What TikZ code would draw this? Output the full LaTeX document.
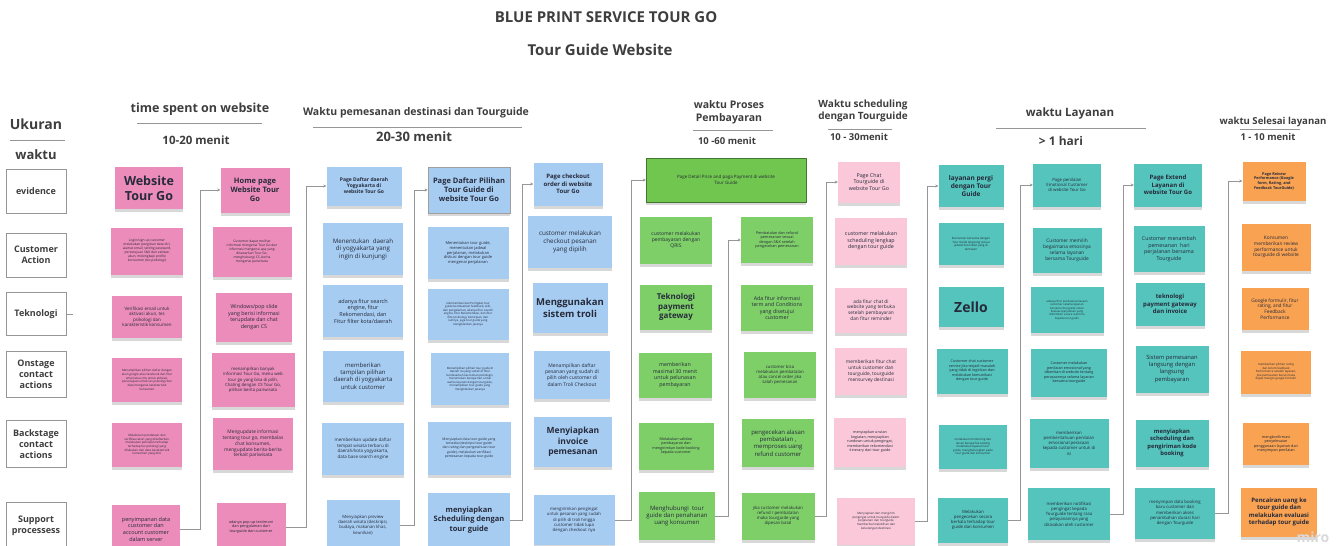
\documentclass[tikz,border=0pt]{standalone}
\usepackage{fontspec}
\setmainfont{Open Sans}
\definecolor{tgpink}{RGB}{236,140,186}
\definecolor{tgrose}{RGB}{250,200,216}
\definecolor{tgblue}{RGB}{166,204,242}
\definecolor{tggreen}{RGB}{126,207,104}
\definecolor{tglime}{RGB}{112,198,78}
\definecolor{tgteal}{RGB}{84,196,188}
\definecolor{tgorange}{RGB}{248,162,82}
\definecolor{tgink}{RGB}{38,42,58}
\definecolor{tghead}{RGB}{62,62,62}
\definecolor{tgline}{RGB}{150,150,150}
\usepackage{tikz}
\usetikzlibrary{arrows.meta,shadows}
\newcommand\fsz[1]{\fontsize{#1}{\fpeval{1.22*#1}}\selectfont}
\tikzset{
  sticky/.style={rectangle,draw=none,text=tgink,align=center,inner sep=1pt,
                 drop shadow={opacity=0.3,shadow xshift=0pt,shadow yshift=-3pt}},
  note/.style n args={3}{sticky,fill=#1,minimum width=#2,minimum height=#3},
  lbl/.style={rectangle,draw=tgline,fill=white,thick,text=tghead,
              minimum width=60,align=center,font=\fsz{9}\bfseries},
  hdr/.style={text=tghead,align=center,font=\fsz{#1}\bfseries},
  rule/.style={tgline,line width=1pt},
  link/.style={-{Stealth[length=3pt,width=3pt]},tgline,line width=0.9pt},
}

\begin{document}
\begin{tikzpicture}[x=1pt,y=-1pt]
  \useasboundingbox[fill=white] (0,0) rectangle (1339,546);

  %% Title
  \node[hdr=15] (title) at (606,17) {BLUE PRINT SERVICE TOUR GO};
  \node[hdr=15] (subtitle) at (600,50) {Tour Guide Website};

  %% Row labels
  \node[hdr=14] (ukuran) at (36,124) {Ukuran};
  \draw[rule] (10,140) -- (65,140);
  \node[hdr=13] (waktu) at (36,155) {waktu};
  \node[lbl,minimum height=44] (rEv) at (36,191) {evidence};
  \node[lbl,minimum height=44] (rCa) at (36,255) {Customer\\Action};
  \node[lbl,minimum height=43] (rTek) at (36,314) {Teknologi};
  \draw[rule] (rTek.east) -- ++(7,0);
  \node[lbl,minimum height=46] (rOn) at (36,374) {Onstage\\contact\\actions};
  \node[lbl,minimum height=47] (rBack) at (36,444) {Backstage\\contact\\actions};
  \node[lbl,minimum height=48] (rSup) at (36,526) {Support\\processess};

  %% Time headers
  \node[hdr=12.5] (h1) at (200,109) {time spent on website};
  \draw[rule] (137,123) -- (262,123);
  \node[hdr=11.5] (m1) at (196,140) {10-20 menit};

  \node[hdr=10.5] (h2) at (416,113) {Waktu pemesanan destinasi dan Tourguide};
  \draw[rule] (313,127) -- (522,127);
  \node[hdr=13] (m2) at (414,137) {20-30 menit};

  \node[hdr=10.5] (h3) at (729,112) {waktu Proses\\Pembayaran};
  \draw[rule] (693,130) -- (773,130);
  \node[hdr=9.5] (m3) at (727,141) {10 -60 menit};

  \node[hdr=10] (h4) at (863,111) {Waktu scheduling\\dengan Tourguide};
  \draw[rule] (828,129) -- (892,129);
  \node[hdr=9.5] (m4) at (859,137) {10 - 30menit};

  \node[hdr=11.5] (h5) at (1070,114) {waktu Layanan};
  \draw[rule] (996,128) -- (1146,128);
  \node[hdr=12] (m5) at (1061,141) {> 1 hari};

  \node[hdr=9.6] (h6) at (1273,122) {waktu Selesai layanan};
  \draw[rule] (1240,129) -- (1300,129);
  \node[hdr=9.5] (m6) at (1268,137) {1 - 10 menit};

  %% Website Tour Go
  \node[note={tgpink}{68}{42},font=\fsz{12.5}\bfseries] (c1ev) at (149,188) {Website\\Tour Go};
  \node[note={tgpink}{72}{47},font=\fsz{3.3}] (c1ca) at (147,251)
    {Login/sign up customer\\melakukan pengisian data diri,\\alamat email, setting password,\\persetujuan S\&K dan validasi\\akun, melengkapi profile\\konsumen (tes psikologi)};
  \node[note={tgpink}{70}{42},font=\fsz{4.5}] (c1tek) at (147,317)
    {Verifikasi email untuk\\aktivasi akun, tes\\psikologi dan\\karakteristik konsumen};
  \node[note={tgpink}{70}{44},font=\fsz{3}] (c1on) at (147,380)
    {Menampilkan pilihan daftar dengan\\akun google atau facebook dan fitur\\email atau sms untuk aktivasi,\\persetujuan untuk tes psikologi dan\\data mengenai karakteristik\\konsumen};
  \node[note={tgpink}{70}{44},font=\fsz{3}] (c1back) at (147,445)
    {Melakukan pendataan dan\\verifikasi akun yang didaftarkan,\\melakukan penilaian terhadap\\terhadap tes psikologi yang\\dilakukan dan data karakteristik\\konsumen yang diisi};
  \node[note={tgpink}{68}{48},font=\fsz{5.5}] (c1sup) at (146,529)
    {penyimpanan data\\customer dan\\account customer\\dalam server};

  %% Home page
  \node[note={tgpink}{69}{45},font=\fsz{7.5}\bfseries] (c2ev) at (255,190) {Home page\\Website Tour\\Go};
  \node[note={tgpink}{79}{50},font=\fsz{3.3}] (c2ca) at (252,252)
    {Customer dapat melihat\\informasi mengenai Tour Go dan\\informasi mengenai apa yang\\ditawarkan Tour Go,\\menghubungi CS, berita\\mengenai pariwisata};
  \node[note={tgpink}{76}{49},font=\fsz{5.3}] (c2tek) at (254,317)
    {Windows/pop slide\\yang berisi informasi\\terupdate dan chat\\dengan CS};
  \node[note={tgpink}{83}{54},font=\fsz{4.3}] (c2on) at (253,380)
    {menampilkan banyak\\informasi Tour Go, menu web\\tour go yang bisa di pilih,\\Chating dengan CS Tour Go,\\pilihan berita pariwisata};
  \node[note={tgpink}{80}{52},font=\fsz{4.8}] (c2back) at (253,444)
    {Mengupdate informasi\\tentang tour go, membalas\\chat konsumen,\\mengupdate berita-berita\\terkait pariwisata};
  \node[note={tgpink}{69}{48},font=\fsz{3.8}] (c2sup) at (251,527)
    {adanya pop up testimoni\\dan pengalaman dari\\tourguide dan customer};

  %% Page Daftar daerah
  \node[note={tgblue}{75}{39},font=\fsz{5}\bfseries] (c3ev) at (364,186) {Page Daftar daerah\\Yogyakarta di\\website Tour Go};
  \node[note={tgblue}{80}{52},font=\fsz{6.2}] (c3ca) at (363,249)
    {Menentukan~ daerah\\di yogyakarta yang\\ingin di kunjungi};
  \node[note={tgblue}{80}{52},font=\fsz{5.5}] (c3tek) at (363,311)
    {adanya fitur search\\engine, fitur\\Rekomendasi, dan\\Fitur filter kota/daerah};
  \node[note={tgblue}{81}{51},font=\fsz{6}] (c3on) at (363,376)
    {memberikan\\tampilan pilihan\\daerah di yogyakarta\\untuk customer};
  \node[note={tgblue}{82}{52},font=\fsz{4.5}] (c3back) at (363,449)
    {memberikan update daftar\\tempat wisata terbaru di\\daerah/kota yogyakarta,\\data base search engine};
  \node[note={tgblue}{73}{50},font=\fsz{4.3}] (c3sup) at (363,525)
    {Menyiapkan preview\\daerah wisata (deskripsi,\\budaya, makanan khas,\\keunikan)};

  %% Page Daftar Pilihan Tour Guide
  \node[note={tgblue}{82}{46},draw=gray!75,thick,font=\fsz{7.5}\bfseries] (c4ev) at (469,190)
    {Page Daftar Pilihan\\Tour Guide di\\website Tour Go};
  \node[note={tgblue}{81}{52},font=\fsz{4}] (c4ca) at (468,253)
    {Menentukan tour guide,\\menentukan jadwal\\perjalanan, melakukan\\diskusi dengan tour guide\\mengenai perjalanan};
  \node[note={tgblue}{81}{51},font=\fsz{2.9}] (c4tek) at (468,314)
    {rekomendasi dan Peringkat tour\\guide berdasarkan feedback, skill,\\dan pengalaman, adanya fitur search\\engine, fitur Rekomendasi, dan fitur\\filter psikologi, kemiripan, dan\\lainnya, juga tour guide yang\\mengiklankan jasanya};
  \node[note={tgblue}{78}{52},font=\fsz{2.9}] (c4on) at (470,379)
    {Menampilkan pilihan tour guide di\\daerah itu yang sudah di filter\\berdasarkan kecocokan psikologis,\\menentukan berapa hari untuk\\waktu layanan dengan tourguide,\\menampilkan tour guide yang\\mengiklankan jasanya};
  \node[note={tgblue}{83}{53},font=\fsz{3.4}] (c4back) at (469,448)
    {Menyiapkan data tour guide yang\\tersedia (deskripsi tour guide\\dan rating dan pengetahuan tour\\guide), melakukan verifikasi\\pemesanan kepada tour guide};
  \node[note={tgblue}{82}{54},font=\fsz{7.5}\bfseries] (c4sup) at (469,520)
    {menyiapkan\\Scheduling dengan\\tour guide};

  %% Page checkout
  \node[note={tgblue}{69}{43},font=\fsz{6}\bfseries] (c5ev) at (568,184) {Page checkout\\order di website\\Tour Go};
  \node[note={tgblue}{84}{52},font=\fsz{6.3}] (c5ca) at (570,242)
    {customer melakukan\\checkout pesanan\\yang dipilih};
  \node[note={tgblue}{75}{50},font=\fsz{9.5}\bfseries] (c5tek) at (570,308)
    {Menggunakan\\sistem troli};
  \node[note={tgblue}{76}{48},font=\fsz{5}] (c5on) at (572,375)
    {Menampilkan daftar\\pesanan yang sudah di\\pilih oleh customer di\\dalam Troli Checkout};
  \node[note={tgblue}{78}{50},font=\fsz{8.5}\bfseries] (c5back) at (573,442)
    {Menyiapkan\\invoice\\pemesanan};
  \node[note={tgblue}{81}{50},font=\fsz{4.3}] (c5sup) at (574,520)
    {mengirimkan pengingat\\untuk pesanan yang sudah\\di pilih di troli hingga\\customer tidak lupa\\dengan checkout nya};

  %% Page Detail Price
  \node[note={tglime}{160}{44},draw=tglime!60!black,font=\fsz{4.5}] (c6ev) at (726,180)
    {Page Detail Price and paga Payment di website\\Tour Guide};
  \node[note={tggreen}{72}{47},font=\fsz{5}] (c6ca) at (676,240)
    {customer melakukan\\pembayaran dengan\\QRIS};
  \node[note={tggreen}{72}{45},font=\fsz{8}\bfseries] (c6tek) at (676,307)
    {Teknologi\\payment\\gateway};
  \node[note={tggreen}{73}{45},font=\fsz{5.3}] (c6on) at (675,375)
    {memberikan\\maximal 30 menit\\untuk pelunasan\\pembayaran};
  \node[note={tggreen}{75}{47},font=\fsz{3.7}] (c6back) at (676,446)
    {Melakukan validasi\\pembayaran dan\\mengirimkan kode booking\\kepada customer};
  \node[note={tggreen}{76}{48},font=\fsz{6}] (c6sup) at (677,516)
    {Menghubungi~ tour\\guide dan penahanan\\uang konsumen};

  %% Pembatalan dan refund
  \node[note={tggreen}{72}{46},font=\fsz{3.8}] (c7ca) at (777,240)
    {Pembatalan dan refund\\pemesanan sesuai\\dengan S\&K setelah\\pengecekan pemesanan};
  \node[note={tggreen}{72}{46},font=\fsz{5.3}] (c7tek) at (777,308)
    {Ada fitur informasi\\term and Conditions\\yang disetujui\\customer};
  \node[note={tggreen}{72}{46},font=\fsz{4.3}] (c7on) at (780,375)
    {customer bisa\\melakukan pembatalan\\atau cancel order jika\\salah pemesanan};
  \node[note={tggreen}{72}{48},font=\fsz{6}] (c7back) at (778,443)
    {pengecekan alasan\\pembatalan ,\\memproses uang\\refund customer};
  \node[note={tggreen}{73}{47},font=\fsz{4.3}] (c7sup) at (778,516)
    {jika customer melakukan\\refund / pembatalan\\maka tourguide yang\\dipesan batal};

  %% Page Chat Tourguide
  \node[note={tgrose}{62}{41},font=\fsz{5.3}] (c8ev) at (869,182) {Page Chat\\Tourguide di\\website Tour Go};
  \node[note={tgrose}{72}{47},font=\fsz{5.3}] (c8ca) at (871,241)
    {customer melakukan\\scheduling lengkap\\dengan tour guide};
  \node[note={tgrose}{72}{45},font=\fsz{4.8}] (c8tek) at (871,310)
    {ada fitur chat di\\website yang terbuka\\setelah pembayaran\\dan fitur reminder};
  \node[note={tgrose}{72}{47},font=\fsz{4.8}] (c8on) at (871,371)
    {memberikan fitur chat\\untuk customer dan\\tourguide, tourguide\\mensurvey destinasi};
  \node[note={tgrose}{72}{49},font=\fsz{3.7}] (c8back) at (870,442)
    {menyiapkan urutan\\kegiatan, menyiapkan\\rundown untuk pengingat,\\memberikan rekomendasi\\itinerary dari tour guide};
  \node[note={tgrose}{78}{47},font=\fsz{3}] (c8sup) at (876,521)
    {Menyiapkan dan mengirim\\pengingat untuk tourguide dalam\\perjalanan dan tourguide\\memberikan kelebihan dan\\kekurangan destinasi};

  %% Layanan pergi dengan Tour Guide
  \node[note={tgteal}{65}{42},font=\fsz{6.5}\bfseries] (c9ev) at (971,186) {layanan pergi\\dengan Tour\\Guide};
  \node[note={tgteal}{65}{42},font=\fsz{2.9}] (c9ca) at (971,244)
    {Konsumen bersama dengan\\Tour Guide langsung sesuai\\jadwal dan lokasi yang di\\tentukan};
  \node[note={tgteal}{65}{40},font=\fsz{14}\bfseries] (c9tek) at (971,307) {Zello};
  \node[note={tgteal}{71}{45},font=\fsz{3.7}] (c9on) at (972,371)
    {Customer chat customer\\service jika terjadi masalah\\yang tidak di inginkan dan\\melakukan komunikasi\\dengan tour guide};
  \node[note={tgteal}{68}{44},font=\fsz{2.9}] (c9back) at (973,447)
    {melakukan monitoring dan\\absen berapa fee sedang\\melakukan layanan tour\\guide, menghubungkan pada\\tour guide dan konsumen};
  \node[note={tgteal}{70}{45},font=\fsz{4.3}] (c9sup) at (973,520)
    {Melakukan\\pengecekan secara\\berkala terhadap tour\\guide dan konsumen};

  %% Page penilaian Emotional Customer
  \node[note={tgteal}{68}{43},font=\fsz{4.3}] (c10ev) at (1067,185) {Page penilaian\\Emotional Customer\\di website Tour Go};
  \node[note={tgteal}{69}{45},font=\fsz{4.8}] (c10ca) at (1067,250)
    {Customer memilih\\begaimana emosinya\\selama layanan\\bersama Tourguide};
  \node[note={tgteal}{73}{46},font=\fsz{2.8}] (c10tek) at (1067,310)
    {adanya fitur penilaian perasaan\\customer selama layanan\\bersama Tourguide untuk\\Evaluasi perjalanan yang\\dikirimkan secara real time\\kepada tour guide};
  \node[note={tgteal}{76}{48},font=\fsz{3.7}] (c10on) at (1069,373)
    {Customer melakukan\\penilaian emosional yang\\diberikan di website tentang\\perasaannya selama layanan\\bersama tourguide};
  \node[note={tgteal}{79}{49},font=\fsz{4.3}] (c10back) at (1069,443)
    {memberikan\\pemberitahuan penilaian\\emosional perasaan\\kepada customer untuk di\\isi};
  \node[note={tgteal}{82}{52},font=\fsz{4.3}] (c10sup) at (1069,514)
    {memberikan notifikasi\\pengingat kepada\\Tourguide tentang rasa\\pelayanannya yang\\dirasakan oleh customer};

  %% Page Extend Layanan
  \node[note={tgteal}{68}{43},font=\fsz{6}\bfseries] (c11ev) at (1168,185) {Page Extend\\Layanan di\\website Tour Go};
  \node[note={tgteal}{71}{46},font=\fsz{5.3}] (c11ca) at (1169,249)
    {Customer menambah\\pemesanan~ hari\\perjalanan bersama\\Tourguide};
  \node[note={tgteal}{69}{43},font=\fsz{6}\bfseries] (c11tek) at (1170,304)
    {teknologi\\payment gateway\\dan invoice};
  \node[note={tgteal}{73}{47},font=\fsz{5.8}] (c11on) at (1172,369)
    {Sistem pemesanan\\langsung dengan\\langsung\\pembayaran};
  \node[note={tgteal}{73}{47},font=\fsz{5.8}\bfseries] (c11back) at (1172,443)
    {menyiapkan\\scheduling dan\\pengiriman kode\\booking};
  \node[note={tgteal}{80}{51},font=\fsz{4.3}] (c11sup) at (1175,513)
    {menyimpan data booking\\baru customer dan\\memberikan akses\\penambahan durasi hari\\dengan Tourguide};

  %% Page Review Performance
  \node[note={tgorange}{63}{39},font=\fsz{3.8}\bfseries] (c12ev) at (1274,181)
    {Page Reivew\\Performance (Google\\form, Rating, and\\Feedback TourGuide)};
  \node[note={tgorange}{69}{47},font=\fsz{4.8}] (c12ca) at (1276,247)
    {Konsumen\\memberikan review\\performance untuk\\tourguide di website};
  \node[note={tgorange}{67}{42},font=\fsz{4.8}] (c12tek) at (1275,309)
    {Google formulir, fitur\\rating, and fitur\\Feedback\\Performance};
  \node[note={tgorange}{70}{43},font=\fsz{2.9}] (c12on) at (1276,372)
    {memberikan pilihan rating\\dan kolom feedback\\Performance setelah layanan,\\jika pemesanan buruk maka\\dapat mengisi google formulir};
  \node[note={tgorange}{66}{42},font=\fsz{3.7}] (c12back) at (1276,444)
    {mengkonfirmasi\\penyelesaian\\penggunaan layanan dan\\menyimpan penilaian};
  \node[note={tgorange}{76}{49},font=\fsz{6}\bfseries] (c12sup) at (1279,512)
    {Pencairan uang ke\\tour guide dan\\melakukan evaluasi\\terhadap tour guide};

  %% Flow from each support note to the next column
  \foreach \from/\to/\dx in {c1sup/c2ev/20, c2sup/c3ev/21, c3sup/c4ev/15,
                             c4sup/c5ev/12, c5sup/c6ev/17, c6sup/c7ca/13,
                             c7sup/c8ev/12, c8sup/c9ev/12, c9sup/c10ev/12,
                             c10sup/c11ev/13, c11sup/c12ev/13}
    \draw[link] (\from.east) -- ++(\dx,0) |- (\to.west);

  \node[text=gray!30,font=\fsz{14}\bfseries] (miro) at (1313,537) {miro};
\end{tikzpicture}
\end{document}
